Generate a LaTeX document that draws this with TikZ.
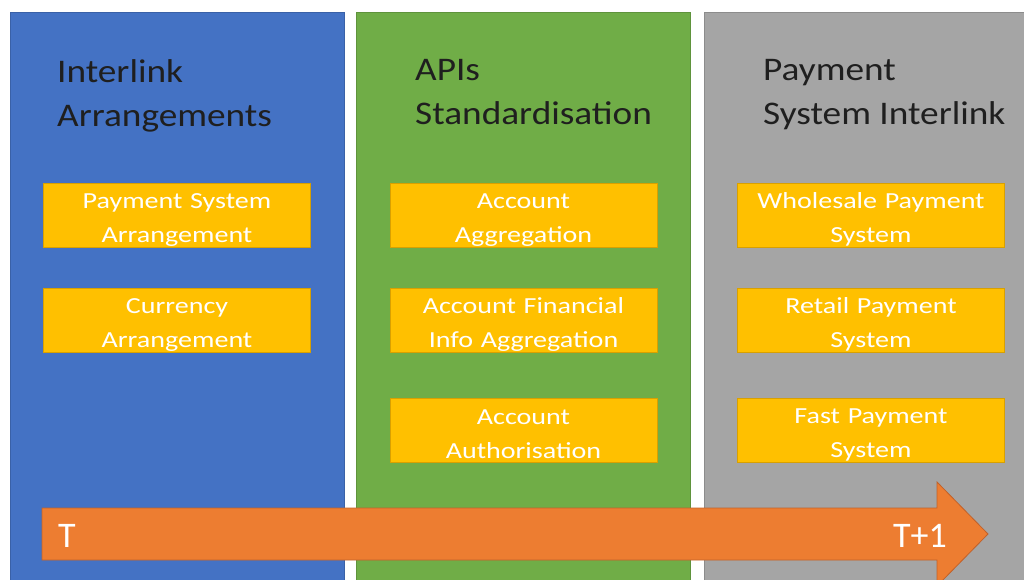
\documentclass[tikz,border=0pt]{standalone}
\usepackage{fontspec}
\setmainfont{Carlito}
\newfontfamily\headfont{Carlito}[FakeStretch=1.13]
\newfontfamily\itemfont{Carlito}[FakeStretch=1.22]
\usetikzlibrary{positioning}
\definecolor{panelblue}{HTML}{4472C4}
\definecolor{panelgreen}{HTML}{70AD47}
\definecolor{panelgray}{HTML}{A5A5A5}
\definecolor{itemgold}{HTML}{FFC000}
\definecolor{itemedge}{HTML}{D9A000}
\definecolor{timeorange}{HTML}{ED7D31}
\definecolor{timeedge}{HTML}{C0612A}
\tikzset{%
	panel/.style    = {rectangle, anchor=north west, minimum width=334pt, minimum height=580pt, inner sep=0pt},
	heading/.style  = {anchor=north west, inner sep=0pt, align=left, text=black!88, font=\headfont\fontsize{33}{44}\selectfont},
	item/.style     = {draw=itemedge, fill=itemgold, line width=0.9pt, text width=267pt, minimum height=64pt, inner sep=0pt, align=center, text=white, font=\itemfont\fontsize{23}{34}\selectfont,
	                   execute at begin node={\rule{0pt}{24pt}}}, % pushes the two lines a bit lower
	stamp/.style    = {anchor=base west, inner sep=0pt, text=white, font=\fontsize{36}{40}\selectfont},
	timeline/.style = {fill=timeorange, draw=timeedge, line width=0.8pt},
}

\begin{document}
\begin{tikzpicture}[x=1pt,y=-1pt]
	\useasboundingbox (0,0) rectangle (1024,580);
	\fill[white] (0,0) rectangle (1024,580);

	% three columns
	\node [panel, fill=panelblue, draw=panelblue!85!black] (blue) at (10,12) {};
	\node [panel, fill=panelgreen, draw=panelgreen!85!black] (green) at (356,12) {};
	\node [panel, fill=panelgray, draw=panelgray!85!black, minimum width=330pt] (gray) at (704,12) {};

	\node [heading] (bluehead) at (57,59) {Interlink\\Arrangements};
	\node [heading] (greenhead) at (415,59) {APIs\\Standardisation};
	\node [heading] (grayhead) at (763,59) {Payment\\System Interlink};

	% items
	\node [item] (psa) at (177,215.5) {Payment System\\Arrangement};
	\node [item] (cur) [below of=psa,node distance=105pt] {Currency\\Arrangement};

	\node [item] (agg) at (523.5,215.5) {Account\\Aggregation};
	\node [item] (fin) [below of=agg,node distance=105pt] {Account Financial\\Info Aggregation};
	\node [item] (auth) [below of=fin,node distance=109.5pt] {Account\\Authorisation};

	\node [item] (whole) at (871,215.5) {Wholesale Payment\\System};
	\node [item] (retail) [below of=whole,node distance=105pt] {Retail Payment\\System};
	\node [item] (fast) [below of=retail,node distance=109.5pt] {Fast Payment\\System};

	% time arrow
	\coordinate (tail) at (42,534);
	\coordinate (tip) at (988,534);
	\draw[timeline] (42,508) -- (937,508) -- (937,482) -- (tip) -- (937,586) -- (937,560) -- (42,560) -- cycle;
	\node [stamp] (t0) at (58,547) {T};
	\node [stamp] (t1) at (893,547) {T+1};
\end{tikzpicture}
\end{document}
